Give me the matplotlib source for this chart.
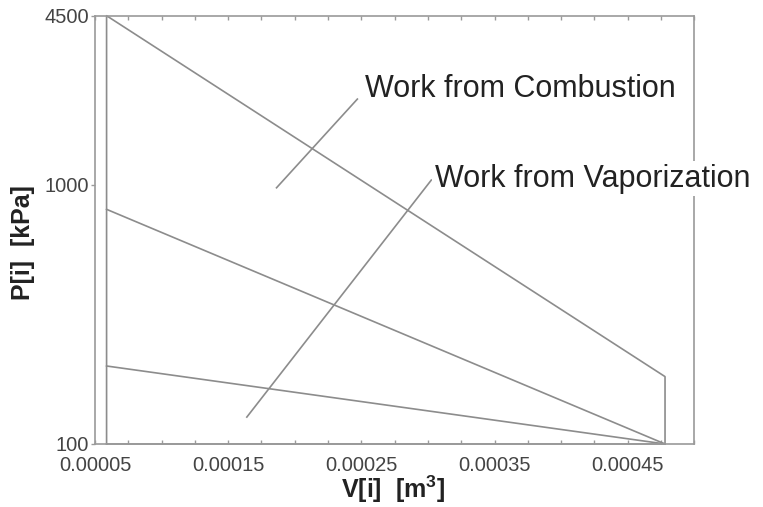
import matplotlib
matplotlib.use("Agg")
import matplotlib.pyplot as plt
from matplotlib.ticker import FixedLocator, MultipleLocator, NullLocator

plt.rcParams["font.family"] = ["Liberation Sans", "DejaVu Sans"]
plt.rcParams["mathtext.fontset"] = "custom"
plt.rcParams["mathtext.bf"] = "Liberation Sans:bold"
plt.rcParams["mathtext.rm"] = "Liberation Sans"

# cylinder volumes [m^3] at top and bottom dead centre
v_tdc = 0.0000587
v_bdc = 0.000478

# cycle outline: up the left side, expansion, down the right side, back along the bottom
cycle_v = [v_tdc, v_tdc, v_bdc, v_bdc, v_tdc]
cycle_p = [100, 4500, 182, 100, 100]

# compression lines [kPa]
dry_v = [v_tdc, v_bdc]
dry_p = [805, 100]
vap_v = [v_tdc, v_bdc]
vap_p = [200, 100]

# pointer lines for the two notes (data coords)
comb_ptr_v = [0.000247, 0.0001863]
comb_ptr_p = [2145, 975]
vap_ptr_v = [0.0003025, 0.000164]
vap_ptr_p = [1044, 127]

x_ticks = [0.00005, 0.00015, 0.00025, 0.00035, 0.00045]
x_labels = ["0.00005", "0.00015", "0.00025", "0.00035", "0.00045"]
y_ticks = [100, 1000, 4500]
y_labels = ["100", "1000", "4500"]

line_col = "#8c8c8c"
frame_col = "#9a9a9a"

fig = plt.figure(figsize=(7.63, 5.07), dpi=100)
ax = fig.add_axes([0.1245, 0.1243, 0.7855, 0.8447])

ax.plot(cycle_v, cycle_p, color=line_col, lw=1.2, clip_on=False)
ax.plot(dry_v, dry_p, color=line_col, lw=1.2, clip_on=False)
ax.plot(vap_v, vap_p, color=line_col, lw=1.2, clip_on=False)
ax.plot(comb_ptr_v, comb_ptr_p, color=line_col, lw=1.2, clip_on=False)
ax.plot(vap_ptr_v, vap_ptr_p, color=line_col, lw=1.2, clip_on=False)

ax.text(0.0002525, 2189, "Work from Combustion", fontsize=22, color="#222222",
        va="baseline", ha="left", clip_on=False)
ax.text(0.000305, 984, "Work from Vaporization", fontsize=22, color="#222222",
        va="baseline", ha="left", clip_on=False, zorder=5,
        bbox=dict(facecolor="white", edgecolor="none", pad=2))

ax.set_yscale("log")
ax.set_xlim(0.00005, 0.0005)
ax.set_ylim(100, 4500)

ax.xaxis.set_major_locator(FixedLocator(x_ticks))
ax.set_xticklabels(x_labels)
ax.xaxis.set_minor_locator(MultipleLocator(0.000025))
ax.yaxis.set_major_locator(FixedLocator(y_ticks))
ax.set_yticklabels(y_labels)
ax.yaxis.set_minor_locator(NullLocator())

ax.tick_params(axis="x", which="both", direction="in", top=True, length=3,
               width=1, color=frame_col, pad=9, labelsize=14.5, labelcolor="#444444")
ax.tick_params(axis="y", which="both", direction="out", right=False, length=3,
               width=1, color=frame_col, pad=1.5, labelsize=14.5, labelcolor="#444444")

for s in ax.spines.values():
    s.set_color(frame_col)
    s.set_linewidth(1.2)

ax.set_xlabel(r"V[i]  [m$^{\mathbf{3}}$]", fontsize=18, fontweight="bold", color="#222222")
ax.set_ylabel("P[i]  [kPa]", fontsize=18, fontweight="bold", color="#222222")
ax.xaxis.set_label_coords(0.497, -0.068)
ax.yaxis.set_label_coords(-0.100, 0.47)

fig.savefig("out.png", dpi=100)
